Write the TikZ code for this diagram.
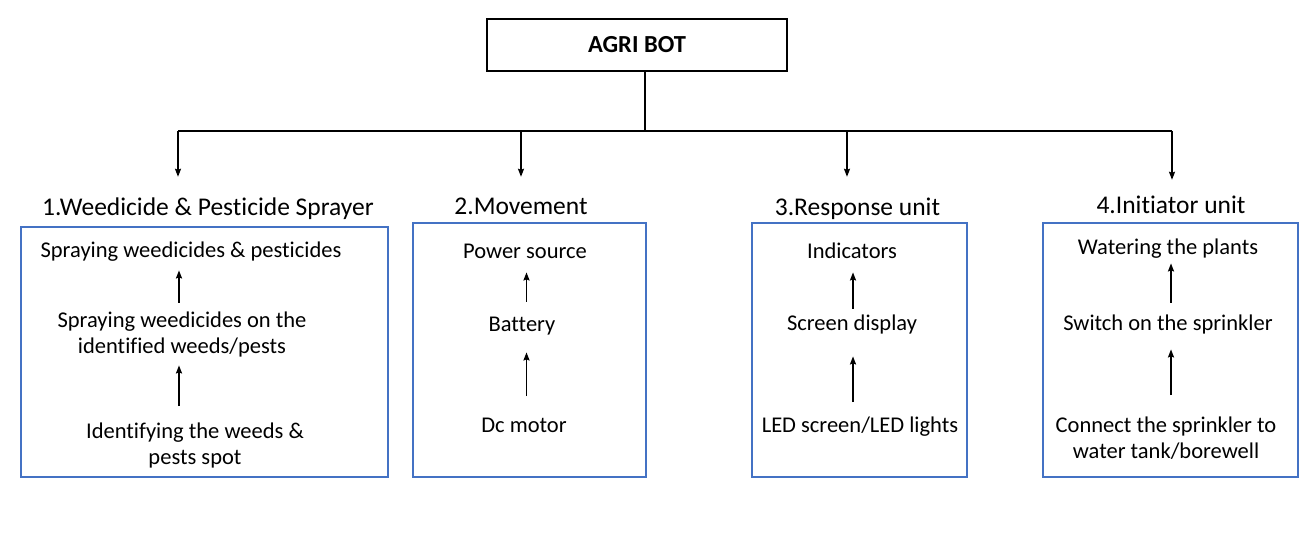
\documentclass[tikz,border=0pt]{standalone}
\usepackage{fontspec}
\setmainfont{Carlito}[Ligatures=NoCommon]
\usetikzlibrary{arrows.meta}
\definecolor{boxblue}{RGB}{68,114,196}
\tikzset{
  unitbox/.style = {draw=boxblue, line width=1.5pt, inner sep=0pt},
  steptext/.style = {font=\fontsize{22.5}{26}\selectfont, align=center, inner sep=0pt, anchor=north},
  captext/.style = {font=\fontsize{25.5}{26}\selectfont, inner sep=0pt, anchor=base},
  arr/.style = {-{Stealth[length=8pt,width=6pt,inset=1pt]}, line width=1.6pt},
}
\begin{document}
\begin{tikzpicture}[x=1pt, y=-1pt]
  \useasboundingbox (0,0) rectangle (1315,553);
  % main block
  \node[draw, line width=1.6pt, minimum width=300pt, minimum height=52pt,
        font=\bfseries\fontsize{24.5}{26}\selectfont] (top) at (637,45) {AGRI BOT};
  \coordinate (hub) at (645,131);
  \coordinate (b1) at (178,131);
  \coordinate (b2) at (521,131);
  \coordinate (b3) at (847,131);
  \coordinate (b4) at (1172,131);
  % unit boxes and captions
  \node[unitbox, minimum width=367pt, minimum height=250pt] (box1) at (204.5,352) {};
  \node[unitbox, minimum width=233pt, minimum height=254pt] (box2) at (529.5,350) {};
  \node[unitbox, minimum width=215pt, minimum height=254pt] (box3) at (859.5,350) {};
  \node[unitbox, minimum width=255pt, minimum height=254pt] (box4) at (1170.5,350) {};
  \node[captext] (cap1) at (208,216) {\strut 1.Weedicide \& Pesticide Sprayer};
  \node[captext] (cap2) at (521,215) {\strut 2.Movement};
  \node[captext] (cap3) at (857.5,216) {\strut 3.Response unit};
  \node[captext] (cap4) at (1171,214) {\strut 4.Initiator unit};
  % tree
  \draw[line width=1.6pt] (top.south -| hub) -- (hub);
  \draw[line width=1.6pt] (b1) -- (b4);
  \draw[arr, shorten >=20.8pt] (b1) -- (b1 |- cap1.north);
  \draw[arr, shorten >=19.8pt] (b2) -- (b2 |- cap2.north);
  \draw[arr, shorten >=20.8pt] (b3) -- (b3 |- cap3.north);
  \draw[arr, shorten >=15.8pt] (b4) -- (b4 |- cap4.north);
  % steps of unit 1
  \node[steptext] (s11) at (191,238.8) {\strut Spraying weedicides \& pesticides};
  \node[steptext] (s12) at (182,308.8) {\strut Spraying weedicides on the\\\strut identified weeds/pests};
  \node[steptext] (s13) at (195,419.8) {\strut Identifying the weeds \&\\\strut pests spot};
  % steps of unit 2
  \node[steptext] (s21) at (525,239.8) {\strut Power source};
  \node[steptext] (s22) at (522,312.8) {\strut Battery};
  \node[steptext] (s23) at (524,413.8) {\strut Dc motor};
  % steps of unit 3
  \node[steptext] (s31) at (852,239.8) {\strut Indicators};
  \node[steptext] (s32) at (852,311.8) {\strut Screen display};
  \node[steptext] (s33) at (860,413.8) {\strut LED screen/LED lights};
  % steps of unit 4
  \node[steptext] (s41) at (1168,235.8) {\strut Watering the plants};
  \node[steptext] (s42) at (1168,311.8) {\strut Switch on the sprinkler};
  \node[steptext] (s43) at (1166,413.8) {\strut Connect the sprinkler to\\\strut water tank/borewell};
  % arrows inside the boxes
  \coordinate (ax1) at (179,0);
  \coordinate (ax2) at (526.5,0);
  \coordinate (ax3) at (853,0);
  \coordinate (ax4) at (1171,0);
  \draw[arr, shorten <=5.8pt, shorten >=5.2pt] (s12.north -| ax1) -- (s11.south -| ax1);
  \draw[arr, shorten <=13.8pt, shorten >=4.2pt] (s13.north -| ax1) -- (s12.south -| ax1);
  \draw[arr, shorten <=10.8pt, shorten >=6.2pt] (s22.north -| ax2) -- (s21.south -| ax2);
  \draw[arr, shorten <=17.8pt, shorten >=13.2pt] (s23.north -| ax2) -- (s22.south -| ax2);
  \draw[arr, shorten <=2.8pt, shorten >=6.2pt] (s32.north -| ax3) -- (s31.south -| ax3);
  \draw[arr, shorten <=11.8pt, shorten >=18.2pt] (s33.north -| ax3) -- (s32.south -| ax3);
  \draw[arr, shorten <=8.8pt, shorten >=1.2pt] (s42.north -| ax4) -- (s41.south -| ax4);
  \draw[arr, shorten <=18.8pt, shorten >=11.2pt] (s43.north -| ax4) -- (s42.south -| ax4);
\end{tikzpicture}
\end{document}
